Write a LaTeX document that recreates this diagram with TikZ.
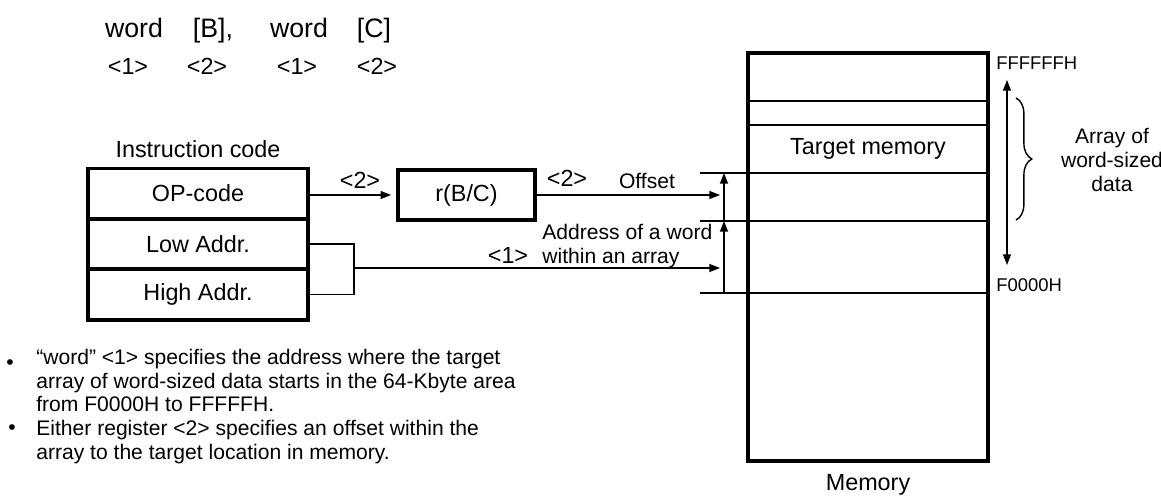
\documentclass[tikz,border=0pt]{standalone}
\usepackage{fontspec}
\setmainfont{Liberation Sans}
\usetikzlibrary{positioning,arrows.meta,decorations.pathreplacing}

\tikzset{
  campo/.style={draw, line width=1.1pt, minimum width=4.36cm, minimum height=0.973cm, inner sep=0pt, font=\fontsize{13.3}{15}\selectfont},
  borda/.style={line width=1.8pt},
  fina/.style={line width=0.9pt},
  seta/.style={line width=0.7pt, -{Triangle[length=6pt,width=4.5pt]}},
  texto/.style={inner sep=0pt, font=\fontsize{13.3}{15}\selectfont},
  textop/.style={inner sep=0pt, font=\fontsize{12}{13.4}\selectfont},
  topo/.style={inner sep=0pt, anchor=base, font=\fontsize{15.2}{17}\selectfont},
}

\begin{document}
\begin{tikzpicture}[x=0.02cm, y=-0.02cm]
\useasboundingbox (0,0) rectangle (1161,495);

%Linha de cima: formato da instrucao e numeros dos operandos
%---------------------------------------------------
\node[topo] (w1) at (134,37) {word};
\node[topo] (rb) at (213,37) {[B],};
\node[topo] (w2) at (299,37) {word};
\node[topo] (rc) at (374,37) {[C]};
\node[texto, anchor=base] (n1) at (128,74) {<1>};
\node[texto, anchor=base] (n2) at (207,74) {<2>};
\node[texto, anchor=base] (n3) at (297,74) {<1>};
\node[texto, anchor=base] (n4) at (377,74) {<2>};
%---------------------------------------------------

%Codigo da instrucao: tres campos empilhados e a borda grossa por fora
%---------------------------------------------------
\node[campo] (op) at (198,193.5) {OP-code};
\node[campo, below=0pt of op] (low) {Low Addr.};
\node[campo, below=0pt of low] (high) {High Addr.};
\draw[borda] (op.north west) rectangle (high.south east);
\node[texto, above=6pt of op] (icode) {Instruction code};
%---------------------------------------------------

%Registrador B ou C
%---------------------------------------------------
\node[campo, borda, minimum width=2.74cm, minimum height=1cm] (reg) at (466.5,195) {r(B/C)};
%---------------------------------------------------

%Memoria com as faixas de enderecos
%---------------------------------------------------
\node[draw, borda, minimum width=4.8cm, minimum height=8.16cm, inner sep=0pt] (mem) at (868,257) {};
\foreach \y in {101,125}
  \draw[fina] (mem.west |- 0,\y) -- (mem.east |- 0,\y);
\foreach \y in {173,221,293}
  \draw[fina] (700,\y) -- (mem.east |- 0,\y);
\node[texto] (alvo) at (868,149) {Target memory};
\node[texto] (memo) at (868,485) {Memory};
\node[inner sep=0pt, anchor=west, font=\fontsize{10.5}{12}\selectfont] (fim) at (996,63) {FFFFFFH};
\node[inner sep=0pt, anchor=west, font=\fontsize{10.5}{12}\selectfont] (ini) at (996,285) {F0000H};
%---------------------------------------------------

%Setas: registrador -> offset, endereco -> inicio do array
%---------------------------------------------------
\coordinate (offEnd) at (720,195);
\coordinate (addrEnd) at (720,268);
\draw[seta, shorten >=3pt] (op.east |- reg.west) -- (reg.west);
\draw[seta] (reg.east) -- (offEnd);
\draw[fina] (low.east) -- ++(46,0) coordinate (jt) |- (high.east);
\draw[seta] (jt |- addrEnd) -- (addrEnd);
\node[texto] (l2a) at (360,180) {<2>};
\node[texto] (l2b) at (567,178) {<2>};
\node[textop] (offs) at (647,181) {Offset};
\node[texto] (l1) at (508,255) {<1>};
\node[textop, anchor=west, align=left] (addr) at (542,246) {Address of a word\\within an array};
%---------------------------------------------------

%Setas verticais ao lado da memoria
%---------------------------------------------------
\coordinate (b0) at (724,293);
\coordinate (b1) at (724,221);
\coordinate (b2) at (724,173);
\draw[seta] (b0) -- (b1);
\draw[seta] (b1) -- (b2);
\coordinate (faixaTop) at (1007,80);
\coordinate (faixaBot) at (1007,265);
\draw[line width=0.7pt, {Triangle[length=6pt,width=4.5pt]}-{Triangle[length=6pt,width=4.5pt]}] (faixaTop) -- (faixaBot);
%---------------------------------------------------

%Chave do array de dados
%---------------------------------------------------
\coordinate (chTop) at (1016,98);
\coordinate (chBot) at (1016,220);
\draw[line width=0.8pt, decorate, decoration={brace, amplitude=9pt}] (chTop) -- (chBot);
\node[textop, align=center] (array) at (1112,160) {Array of\\word-sized\\data};
%---------------------------------------------------

%Notas com marcadores
%---------------------------------------------------
\node[textop] (m1) at (10,365) {•};
\node[textop] (m2) at (12,430) {•};
\node[textop, anchor=north west, align=left] (t1) at (36,349)
  {“word” <1> specifies the address where the target\\array of word-sized data starts in the 64-Kbyte area\\from F0000H to FFFFFH.};
\node[textop, anchor=north west, align=left] (t2) at (36,420)
  {Either register <2> specifies an offset within the\\array to the target location in memory.};
%---------------------------------------------------
\end{tikzpicture}
\end{document}
